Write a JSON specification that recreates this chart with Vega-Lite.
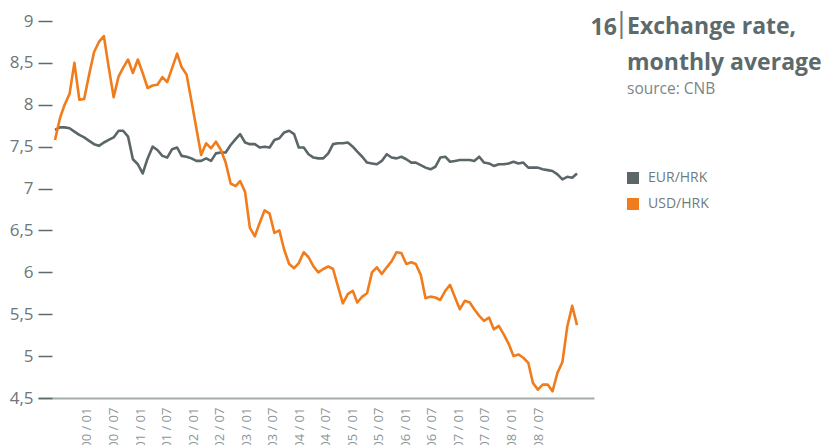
{
  "$schema": "https://vega.github.io/schema/vega-lite/v6.json",
  "width": 556,
  "height": 377,
  "autosize": {"type": "none"},
  "padding": {"left": 38, "top": 21, "right": 238, "bottom": 47},
  "background": "white",
  "title": {
    "text": ["Exchange rate,", "monthly average"],
    "subtitle": "source: CNB",
    "anchor": "start",
    "frame": "group",
    "orient": "top",
    "dx": 589,
    "dy": 92,
    "font": "Open Sans",
    "fontSize": 23,
    "fontWeight": "bold",
    "color": "#5d6a6c",
    "lineHeight": 36,
    "subtitleFont": "Open Sans",
    "subtitleFontSize": 15.5,
    "subtitleColor": "#7b8688",
    "subtitlePadding": 7
  },
  "data": {
    "values": [
      {"date": "2000-01-01", "EUR/HRK": 7.70, "USD/HRK": 7.58},
      {"date": "2000-02-01", "EUR/HRK": 7.73, "USD/HRK": 7.84},
      {"date": "2000-03-01", "EUR/HRK": 7.73, "USD/HRK": 8.00},
      {"date": "2000-04-01", "EUR/HRK": 7.72, "USD/HRK": 8.13},
      {"date": "2000-05-01", "EUR/HRK": 7.68, "USD/HRK": 8.50},
      {"date": "2000-06-01", "EUR/HRK": 7.64, "USD/HRK": 8.06},
      {"date": "2000-07-01", "EUR/HRK": 7.61, "USD/HRK": 8.07},
      {"date": "2000-08-01", "EUR/HRK": 7.57, "USD/HRK": 8.36},
      {"date": "2000-09-01", "EUR/HRK": 7.53, "USD/HRK": 8.63},
      {"date": "2000-10-01", "EUR/HRK": 7.51, "USD/HRK": 8.75},
      {"date": "2000-11-01", "EUR/HRK": 7.55, "USD/HRK": 8.82},
      {"date": "2000-12-01", "EUR/HRK": 7.58, "USD/HRK": 8.45},
      {"date": "2001-01-01", "EUR/HRK": 7.61, "USD/HRK": 8.09},
      {"date": "2001-02-01", "EUR/HRK": 7.69, "USD/HRK": 8.34},
      {"date": "2001-03-01", "EUR/HRK": 7.69, "USD/HRK": 8.44},
      {"date": "2001-04-01", "EUR/HRK": 7.62, "USD/HRK": 8.54},
      {"date": "2001-05-01", "EUR/HRK": 7.35, "USD/HRK": 8.38},
      {"date": "2001-06-01", "EUR/HRK": 7.29, "USD/HRK": 8.54},
      {"date": "2001-07-01", "EUR/HRK": 7.18, "USD/HRK": 8.38},
      {"date": "2001-08-01", "EUR/HRK": 7.36, "USD/HRK": 8.20},
      {"date": "2001-09-01", "EUR/HRK": 7.50, "USD/HRK": 8.23},
      {"date": "2001-10-01", "EUR/HRK": 7.46, "USD/HRK": 8.24},
      {"date": "2001-11-01", "EUR/HRK": 7.39, "USD/HRK": 8.33},
      {"date": "2001-12-01", "EUR/HRK": 7.37, "USD/HRK": 8.27},
      {"date": "2002-01-01", "EUR/HRK": 7.47, "USD/HRK": 8.44},
      {"date": "2002-02-01", "EUR/HRK": 7.49, "USD/HRK": 8.61},
      {"date": "2002-03-01", "EUR/HRK": 7.39, "USD/HRK": 8.45},
      {"date": "2002-04-01", "EUR/HRK": 7.38, "USD/HRK": 8.36},
      {"date": "2002-05-01", "EUR/HRK": 7.36, "USD/HRK": 8.05},
      {"date": "2002-06-01", "EUR/HRK": 7.33, "USD/HRK": 7.72},
      {"date": "2002-07-01", "EUR/HRK": 7.33, "USD/HRK": 7.40},
      {"date": "2002-08-01", "EUR/HRK": 7.36, "USD/HRK": 7.54},
      {"date": "2002-09-01", "EUR/HRK": 7.33, "USD/HRK": 7.48},
      {"date": "2002-10-01", "EUR/HRK": 7.42, "USD/HRK": 7.56},
      {"date": "2002-11-01", "EUR/HRK": 7.43, "USD/HRK": 7.46},
      {"date": "2002-12-01", "EUR/HRK": 7.43, "USD/HRK": 7.31},
      {"date": "2003-01-01", "EUR/HRK": 7.52, "USD/HRK": 7.06},
      {"date": "2003-02-01", "EUR/HRK": 7.59, "USD/HRK": 7.03},
      {"date": "2003-03-01", "EUR/HRK": 7.65, "USD/HRK": 7.09},
      {"date": "2003-04-01", "EUR/HRK": 7.55, "USD/HRK": 6.96},
      {"date": "2003-05-01", "EUR/HRK": 7.53, "USD/HRK": 6.53},
      {"date": "2003-06-01", "EUR/HRK": 7.53, "USD/HRK": 6.43},
      {"date": "2003-07-01", "EUR/HRK": 7.49, "USD/HRK": 6.59},
      {"date": "2003-08-01", "EUR/HRK": 7.50, "USD/HRK": 6.74},
      {"date": "2003-09-01", "EUR/HRK": 7.49, "USD/HRK": 6.70},
      {"date": "2003-10-01", "EUR/HRK": 7.58, "USD/HRK": 6.47},
      {"date": "2003-11-01", "EUR/HRK": 7.60, "USD/HRK": 6.50},
      {"date": "2003-12-01", "EUR/HRK": 7.67, "USD/HRK": 6.27},
      {"date": "2004-01-01", "EUR/HRK": 7.69, "USD/HRK": 6.10},
      {"date": "2004-02-01", "EUR/HRK": 7.65, "USD/HRK": 6.05},
      {"date": "2004-03-01", "EUR/HRK": 7.49, "USD/HRK": 6.11},
      {"date": "2004-04-01", "EUR/HRK": 7.49, "USD/HRK": 6.24},
      {"date": "2004-05-01", "EUR/HRK": 7.41, "USD/HRK": 6.18},
      {"date": "2004-06-01", "EUR/HRK": 7.37, "USD/HRK": 6.07},
      {"date": "2004-07-01", "EUR/HRK": 7.36, "USD/HRK": 6.00},
      {"date": "2004-08-01", "EUR/HRK": 7.36, "USD/HRK": 6.04},
      {"date": "2004-09-01", "EUR/HRK": 7.42, "USD/HRK": 6.07},
      {"date": "2004-10-01", "EUR/HRK": 7.53, "USD/HRK": 6.04},
      {"date": "2004-11-01", "EUR/HRK": 7.54, "USD/HRK": 5.83},
      {"date": "2004-12-01", "EUR/HRK": 7.54, "USD/HRK": 5.63},
      {"date": "2005-01-01", "EUR/HRK": 7.55, "USD/HRK": 5.74},
      {"date": "2005-02-01", "EUR/HRK": 7.50, "USD/HRK": 5.78},
      {"date": "2005-03-01", "EUR/HRK": 7.44, "USD/HRK": 5.64},
      {"date": "2005-04-01", "EUR/HRK": 7.38, "USD/HRK": 5.71},
      {"date": "2005-05-01", "EUR/HRK": 7.31, "USD/HRK": 5.75},
      {"date": "2005-06-01", "EUR/HRK": 7.30, "USD/HRK": 6.00},
      {"date": "2005-07-01", "EUR/HRK": 7.29, "USD/HRK": 6.06},
      {"date": "2005-08-01", "EUR/HRK": 7.33, "USD/HRK": 5.98},
      {"date": "2005-09-01", "EUR/HRK": 7.41, "USD/HRK": 6.06},
      {"date": "2005-10-01", "EUR/HRK": 7.37, "USD/HRK": 6.13},
      {"date": "2005-11-01", "EUR/HRK": 7.36, "USD/HRK": 6.24},
      {"date": "2005-12-01", "EUR/HRK": 7.38, "USD/HRK": 6.23},
      {"date": "2006-01-01", "EUR/HRK": 7.35, "USD/HRK": 6.10},
      {"date": "2006-02-01", "EUR/HRK": 7.31, "USD/HRK": 6.12},
      {"date": "2006-03-01", "EUR/HRK": 7.31, "USD/HRK": 6.10},
      {"date": "2006-04-01", "EUR/HRK": 7.28, "USD/HRK": 5.97},
      {"date": "2006-05-01", "EUR/HRK": 7.25, "USD/HRK": 5.69},
      {"date": "2006-06-01", "EUR/HRK": 7.23, "USD/HRK": 5.71},
      {"date": "2006-07-01", "EUR/HRK": 7.26, "USD/HRK": 5.70},
      {"date": "2006-08-01", "EUR/HRK": 7.37, "USD/HRK": 5.67},
      {"date": "2006-09-01", "EUR/HRK": 7.38, "USD/HRK": 5.78},
      {"date": "2006-10-01", "EUR/HRK": 7.32, "USD/HRK": 5.85},
      {"date": "2006-11-01", "EUR/HRK": 7.33, "USD/HRK": 5.70},
      {"date": "2006-12-01", "EUR/HRK": 7.34, "USD/HRK": 5.56},
      {"date": "2007-01-01", "EUR/HRK": 7.34, "USD/HRK": 5.66},
      {"date": "2007-02-01", "EUR/HRK": 7.34, "USD/HRK": 5.64},
      {"date": "2007-03-01", "EUR/HRK": 7.33, "USD/HRK": 5.56},
      {"date": "2007-04-01", "EUR/HRK": 7.38, "USD/HRK": 5.48},
      {"date": "2007-05-01", "EUR/HRK": 7.31, "USD/HRK": 5.42},
      {"date": "2007-06-01", "EUR/HRK": 7.30, "USD/HRK": 5.46},
      {"date": "2007-07-01", "EUR/HRK": 7.27, "USD/HRK": 5.32},
      {"date": "2007-08-01", "EUR/HRK": 7.29, "USD/HRK": 5.36},
      {"date": "2007-09-01", "EUR/HRK": 7.29, "USD/HRK": 5.26},
      {"date": "2007-10-01", "EUR/HRK": 7.30, "USD/HRK": 5.15},
      {"date": "2007-11-01", "EUR/HRK": 7.32, "USD/HRK": 5.00},
      {"date": "2007-12-01", "EUR/HRK": 7.30, "USD/HRK": 5.02},
      {"date": "2008-01-01", "EUR/HRK": 7.31, "USD/HRK": 4.98},
      {"date": "2008-02-01", "EUR/HRK": 7.25, "USD/HRK": 4.92},
      {"date": "2008-03-01", "EUR/HRK": 7.25, "USD/HRK": 4.68},
      {"date": "2008-04-01", "EUR/HRK": 7.25, "USD/HRK": 4.60},
      {"date": "2008-05-01", "EUR/HRK": 7.23, "USD/HRK": 4.66},
      {"date": "2008-06-01", "EUR/HRK": 7.22, "USD/HRK": 4.66},
      {"date": "2008-07-01", "EUR/HRK": 7.21, "USD/HRK": 4.58},
      {"date": "2008-08-01", "EUR/HRK": 7.17, "USD/HRK": 4.80},
      {"date": "2008-09-01", "EUR/HRK": 7.11, "USD/HRK": 4.93},
      {"date": "2008-10-01", "EUR/HRK": 7.14, "USD/HRK": 5.35},
      {"date": "2008-11-01", "EUR/HRK": 7.13, "USD/HRK": 5.60},
      {"date": "2008-12-01", "EUR/HRK": 7.18, "USD/HRK": 5.37}
    ]
  },
  "transform": [{"fold": ["EUR/HRK", "USD/HRK"], "as": ["series", "rate"]}],
  "layer": [
    {
      "mark": {"type": "line", "strokeWidth": 2.6, "strokeJoin": "round"},
      "encoding": {
        "x": {
          "field": "date",
          "type": "temporal",
          "scale": {
            "type": "utc",
            "nice": false,
            "domain": [
              {"year": 1999, "month": 9, "date": 17, "utc": true},
              {"year": 2009, "month": 3, "date": 17, "utc": true}
            ]
          },
          "axis": null
        },
        "y": {
          "field": "rate",
          "type": "quantitative",
          "scale": {"domain": [4.5, 9], "nice": false, "zero": false},
          "axis": {
            "values": [4.5, 5, 5.5, 6, 6.5, 7, 7.5, 8, 8.5, 9],
            "labelExpr": "replace(format(datum.value, '.1~f'), '.', ',')",
            "domain": false,
            "grid": false,
            "ticks": true,
            "tickSize": -14,
            "tickColor": "#5e6b6d",
            "tickWidth": 1.5,
            "labelPadding": 19,
            "labelFont": "Open Sans",
            "labelFontSize": 17,
            "labelColor": "#6b7779",
            "title": "16",
            "titleX": 552,
            "titleY": 13,
            "titleAngle": 0,
            "titleAlign": "left",
            "titleBaseline": "alphabetic",
            "titleFont": "Open Sans",
            "titleFontSize": 23,
            "titleFontWeight": "bold",
            "titleColor": "#5d6a6c"
          }
        },
        "color": {
          "field": "series",
          "type": "nominal",
          "scale": {"domain": ["EUR/HRK", "USD/HRK"], "range": ["#5a6668", "#f07c1c"]},
          "legend": {
            "orient": "none",
            "legendX": 588,
            "legendY": 150,
            "title": null,
            "symbolType": "square",
            "symbolSize": 144,
            "symbolStrokeWidth": 0,
            "labelFont": "Open Sans",
            "labelFontSize": 14,
            "labelColor": "#6f7b7d",
            "labelOffset": 8,
            "rowPadding": 12,
            "encode": {
              "symbols": {
                "update": {
                  "fill": {"scale": "color", "field": "value"},
                  "stroke": {"value": "transparent"}
                }
              }
            }
          }
        }
      }
    },
    {
      "mark": {"type": "point", "opacity": 0},
      "encoding": {
        "x": {
          "field": "date",
          "type": "temporal",
          "scale": {
            "type": "utc",
            "nice": false,
            "domain": [
              {"year": 1999, "month": 1, "date": 29, "utc": true},
              {"year": 2009, "month": 7, "date": 21, "utc": true}
            ]
          },
          "axis": {
            "orient": "bottom",
            "values": [
              {"year": 2000, "month": 1, "date": 1, "utc": true},
              {"year": 2000, "month": 7, "date": 1, "utc": true},
              {"year": 2001, "month": 1, "date": 1, "utc": true},
              {"year": 2001, "month": 7, "date": 1, "utc": true},
              {"year": 2002, "month": 1, "date": 1, "utc": true},
              {"year": 2002, "month": 7, "date": 1, "utc": true},
              {"year": 2003, "month": 1, "date": 1, "utc": true},
              {"year": 2003, "month": 7, "date": 1, "utc": true},
              {"year": 2004, "month": 1, "date": 1, "utc": true},
              {"year": 2004, "month": 7, "date": 1, "utc": true},
              {"year": 2005, "month": 1, "date": 1, "utc": true},
              {"year": 2005, "month": 7, "date": 1, "utc": true},
              {"year": 2006, "month": 1, "date": 1, "utc": true},
              {"year": 2006, "month": 7, "date": 1, "utc": true},
              {"year": 2007, "month": 1, "date": 1, "utc": true},
              {"year": 2007, "month": 7, "date": 1, "utc": true},
              {"year": 2008, "month": 1, "date": 1, "utc": true},
              {"year": 2008, "month": 7, "date": 1, "utc": true}
            ],
            "labelExpr": "utcFormat(datum.value, '%y / %m')",
            "labelAngle": 270,
            "labelAlign": "right",
            "labelBaseline": "middle",
            "labelPadding": 9,
            "labelFont": "Open Sans",
            "labelFontSize": 13,
            "labelColor": "#8c9597",
            "labelOverlap": false,
            "labelFlush": false,
            "ticks": false,
            "grid": false,
            "domain": true,
            "domainColor": "#a5abab",
            "domainWidth": 2,
            "title": "|",
            "titleX": 583,
            "titleY": -367,
            "titleAngle": 0,
            "titleAlign": "center",
            "titleBaseline": "alphabetic",
            "titleFont": "Open Sans",
            "titleFontSize": 28,
            "titleFontWeight": "normal",
            "titleColor": "#6b7779"
          }
        }
      }
    }
  ],
  "resolve": {"scale": {"x": "independent"}},
  "config": {
    "view": {"stroke": null},
    "font": "Open Sans"
  }
}
